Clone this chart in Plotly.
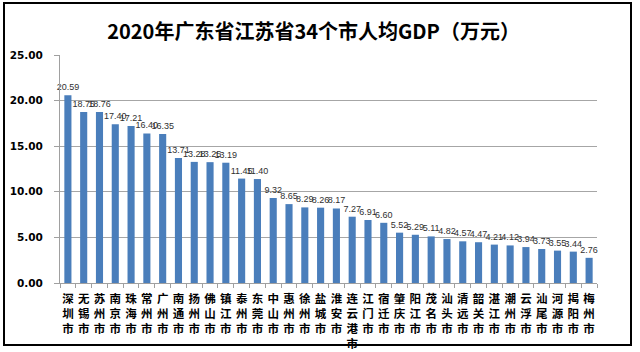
import plotly.graph_objects as go

cities = ["深圳市", "无锡市", "苏州市", "南京市", "珠海市", "常州市", "广州市", "南通市",
          "扬州市", "佛山市", "镇江市", "泰州市", "东莞市", "中山市", "惠州市", "徐州市",
          "盐城市", "淮安市", "连云港市", "江门市", "宿迁市", "肇庆市", "阳江市", "茂名市",
          "汕头市", "清远市", "韶关市", "湛江市", "潮州市", "云浮市", "汕尾市", "河源市",
          "揭阳市", "梅州市"]
gdp_per_capita = [20.59, 18.75, 18.76, 17.40, 17.21, 16.40, 16.35, 13.71,
                  13.28, 13.25, 13.19, 11.45, 11.40, 9.32, 8.65, 8.29,
                  8.26, 8.17, 7.27, 6.91, 6.60, 5.52, 5.29, 5.11,
                  4.82, 4.57, 4.47, 4.21, 4.12, 3.94, 3.73, 3.55,
                  3.44, 2.76]
y_ticks = [0, 5, 10, 15, 20, 25]
title_text = "2020年广东省江苏省34个市人均GDP（万元）"

tick_text = ["<br>".join(list(c)) for c in cities]

W, H = 640, 352
L, R, T, B = 60, 43, 55, 69
pw, ph = W - L - R, H - T - B

def px2x(p):
    return (p - L) / pw

def py2y(p):
    return (H - B - p) / ph

fig = go.Figure()
fig.add_trace(go.Bar(
    x=cities, y=gdp_per_capita,
    marker=dict(color="#4a7ebb", line=dict(width=0)),
    width=0.45,
    texttemplate="%{y:.2f}", textposition="outside",
    textfont=dict(family="Liberation Sans", size=9, color="#303030"),
    constraintext="none", cliponaxis=False,
))

fig.update_layout(
    width=W, height=H,
    margin=dict(l=L, r=R, t=T, b=B, autoexpand=False),
    paper_bgcolor="white", plot_bgcolor="white",
    showlegend=False,
    title=dict(text="<b>" + title_text + "</b>", x=0.49, xanchor="center",
               y=1 - 32 / H, yanchor="middle",
               font=dict(family="Noto Sans CJK SC", size=20, color="black")),
    bargap=0.5,
    xaxis=dict(
        tickmode="array", tickvals=cities, ticktext=tick_text,
        tickangle=0, tickson="boundaries", ticks="outside", ticklen=4,
        tickcolor="#a0a0a0", showline=True, linecolor="#a0a0a0", linewidth=1,
        tickfont=dict(family="Noto Sans CJK SC", size=11.5, color="black", weight="bold"),
        showgrid=False, ticklabelstandoff=5, automargin=False,
    ),
    yaxis=dict(
        range=[0, 25], tickvals=y_ticks, tickformat=".2f",
        ticks="outside", ticklen=5, tickcolor="#a0a0a0",
        showline=True, linecolor="#a0a0a0", linewidth=1,
        showgrid=True, gridcolor="#a6a6a6", gridwidth=1,
        tickfont=dict(family="DejaVu Sans", size=10.5, color="black", weight="bold"),
        ticklabelstandoff=9, zeroline=False, automargin=False,
    ),
)

fig.add_shape(type="rect", xref="paper", yref="paper",
              x0=px2x(4), x1=px2x(631), y0=py2y(345), y1=py2y(3),
              line=dict(color="black", width=2), fillcolor="rgba(0,0,0,0)", layer="above")

fig.write_html("out.html")
